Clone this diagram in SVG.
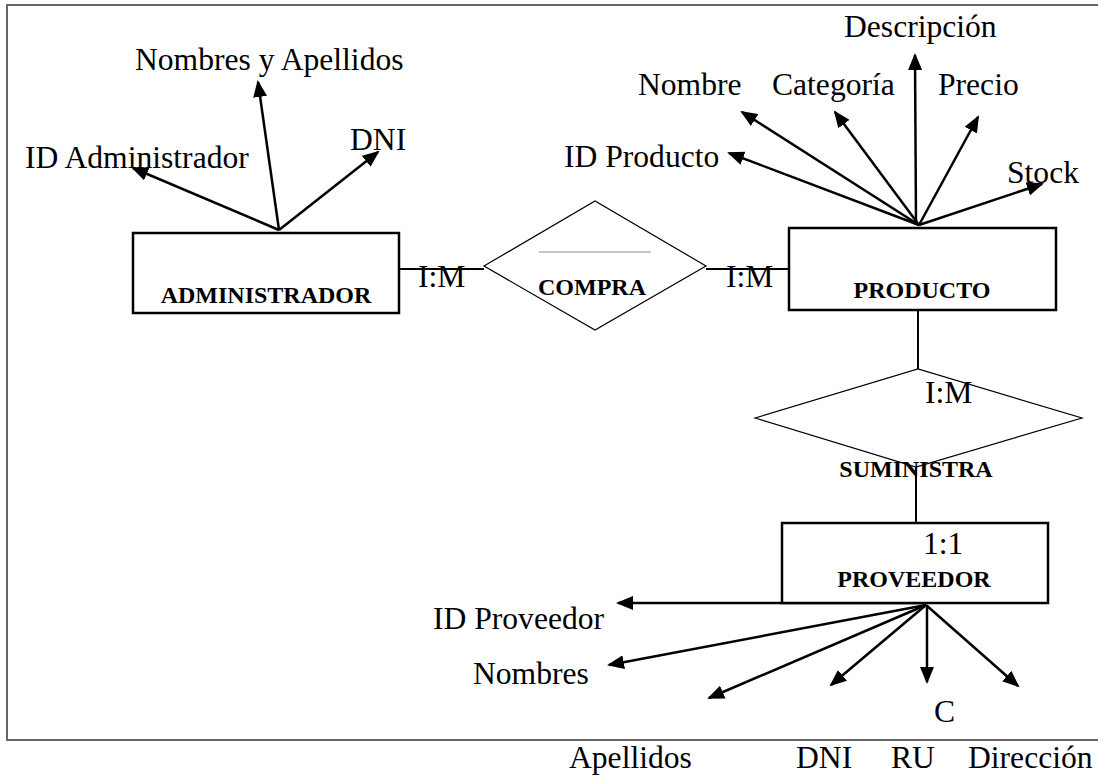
<svg xmlns="http://www.w3.org/2000/svg" width="1098" height="776" viewBox="0 0 1098 776">
<defs>
<marker id="ah" markerUnits="userSpaceOnUse" markerWidth="17" markerHeight="14" refX="15" refY="7" orient="auto">
<path d="M0,0 L17,7 L0,14 z" fill="#000"/>
</marker>
<style>
.t{font-family:"Liberation Serif","Times New Roman",serif;font-size:31.6px;fill:#000}
.b{font-family:"Liberation Serif","Times New Roman",serif;font-size:24px;font-weight:bold;fill:#000}
.ent{fill:#fff;stroke:#000;stroke-width:2.5}
.rel{fill:#fff;stroke:#000;stroke-width:1.2}
.att{stroke:#000;stroke-width:2.5;fill:none;marker-end:url(#ah)}
.con{stroke:#000;stroke-width:2;fill:none}
</style>
</defs>
<rect width="1098" height="776" fill="#fff"/>
<path d="M1098,5 H7 V740 H1098" fill="none" stroke="#666" stroke-width="2"/>

<g id="connectors">
<line class="con" x1="398" y1="269" x2="484" y2="269"/>
<line class="con" x1="706" y1="269" x2="789" y2="269"/>
<line class="con" x1="918" y1="310" x2="918" y2="369" stroke-width="1.5"/>
<line class="con" x1="916" y1="466" x2="916" y2="523" stroke-width="1.5"/>
<!-- administrador attributes -->
<line class="att" x1="279" y1="230" x2="133" y2="168"/>
<line class="att" x1="279" y1="230" x2="258" y2="82"/>
<line class="att" x1="279" y1="230" x2="378" y2="152"/>
<!-- producto attributes -->
<line class="att" x1="919" y1="225" x2="729" y2="153"/>
<line class="att" x1="919" y1="225" x2="742" y2="112"/>
<line class="att" x1="919" y1="225" x2="835" y2="112"/>
<line class="att" x1="916" y1="225" x2="915" y2="55"/>
<line class="att" x1="919" y1="225" x2="978" y2="117"/>
<line class="att" x1="919" y1="225" x2="1042" y2="184"/>
<!-- proveedor attributes -->
<line class="att" x1="926" y1="603" x2="618" y2="603"/>
<line class="att" x1="926" y1="605" x2="609" y2="665"/>
<line class="att" x1="926" y1="605" x2="709" y2="698"/>
<line class="att" x1="926" y1="605" x2="831" y2="685"/>
<line class="att" x1="927" y1="605" x2="927" y2="682"/>
<line class="att" x1="926" y1="605" x2="1018" y2="686"/>
</g>

<g id="administrador">
<rect class="ent" x="133" y="233" width="266" height="80"/>
<text class="b" x="266" y="303" text-anchor="middle">ADMINISTRADOR</text>
</g>
<g id="admin-attrs">
<text class="t" x="25" y="168">ID Administrador</text>
<text class="t" x="135" y="70">Nombres y Apellidos</text>
<text class="t" x="350" y="150">DNI</text>
</g>

<g id="compra">
<polygon class="rel" points="484,266 595,201 706,266 595,330"/>
<line x1="539" y1="252" x2="651" y2="252" stroke="#888" stroke-width="1"/>
<text class="b" x="592" y="295" text-anchor="middle">COMPRA</text>
<text class="t" x="418" y="287">I:M</text>
<text class="t" x="726" y="287">I:M</text>
</g>

<g id="producto">
<rect class="ent" x="789" y="228" width="267" height="82"/>
<text class="b" x="922" y="298" text-anchor="middle">PRODUCTO</text>
</g>
<g id="producto-attrs">
<text class="t" x="844" y="37">Descripción</text>
<text class="t" x="638" y="95">Nombre</text>
<text class="t" x="772" y="95">Categoría</text>
<text class="t" x="938" y="95">Precio</text>
<text class="t" x="564" y="167">ID Producto</text>
<text class="t" x="1007" y="183">Stock</text>
</g>

<g id="suministra">
<polygon class="rel" points="755,418 918,369 1082,418 916,467"/>
<text class="t" x="925" y="403">I:M</text>
<text class="b" x="916" y="477" text-anchor="middle">SUMINISTRA</text>
</g>

<g id="proveedor">
<rect class="ent" x="782" y="523" width="266" height="80"/>
<text class="t" x="923" y="554">1:1</text>
<text class="b" x="914" y="587" text-anchor="middle">PROVEEDOR</text>
</g>
<g id="proveedor-attrs">
<text class="t" x="433" y="629">ID Proveedor</text>
<text class="t" x="473" y="684">Nombres</text>
<text class="t" x="934" y="722">C</text>
<text class="t" x="569" y="768">Apellidos</text>
<text class="t" x="796" y="768">DNI</text>
<text class="t" x="891" y="768">RU</text>
<text class="t" x="968" y="768">Dirección</text>
</g>
</svg>
